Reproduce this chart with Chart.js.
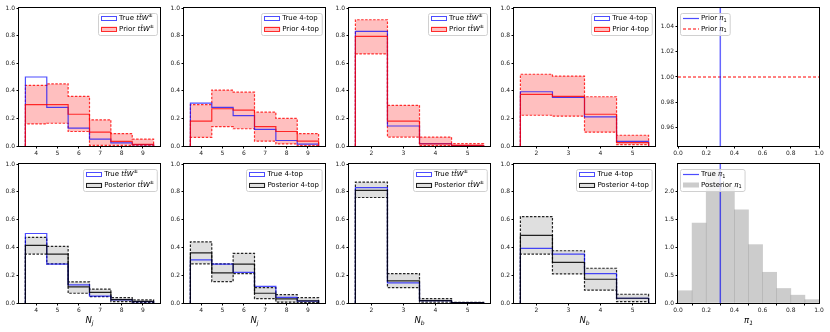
<!DOCTYPE html>
<html>
<head>
<meta charset="utf-8">
<script src="https://cdn.jsdelivr.net/npm/chart.js@4.4.0/dist/chart.umd.min.js"></script>
<style>
html, body { margin: 0; padding: 0; background: #fff; }
#fig { position: relative; width: 830px; height: 332px; overflow: hidden; }
#fig canvas { position: absolute; }
</style>
</head>
<body>
<div id="fig"></div>
<script>
// bins and tick labels
const njBins = [4, 5, 6, 7, 8, 9];
const nbBins = [2, 3, 4, 5];
const fracTicks = [0, 0.2, 0.4, 0.6, 0.8, 1.0];
const piTicks = [0, 0.2, 0.4, 0.6, 0.8, 1.0];
const flatTicks = [0.96, 0.98, 1.00, 1.02, 1.04];
const densTicks = [0, 0.5, 1.0, 1.5, 2.0];

// true distributions
const trueTtwNj = [0.50, 0.28, 0.13, 0.05, 0.022, 0.01];
const true4tNj = [0.31, 0.28, 0.22, 0.12, 0.04, 0.013];
const trueTtwNb = [0.83, 0.145, 0.017, 0.003];
const true4tNb = [0.393, 0.352, 0.211, 0.034];

// prior: median, lower, upper
const priorTtwNj = [0.30, 0.30, 0.23, 0.10, 0.034, 0.012];
const priorTtwNjLo = [0.16, 0.165, 0.105, 0.005, 0.005, 0.002];
const priorTtwNjHi = [0.44, 0.45, 0.36, 0.19, 0.09, 0.05];
const prior4tNj = [0.18, 0.27, 0.26, 0.14, 0.105, 0.035];
const prior4tNjLo = [0.063, 0.14, 0.125, 0.035, 0.015, 0.003];
const prior4tNjHi = [0.30, 0.405, 0.39, 0.245, 0.20, 0.09];
const priorTtwNb = [0.795, 0.18, 0.015, 0.004];
const priorTtwNbLo = [0.667, 0.065, 0.002, 0.0];
const priorTtwNbHi = [0.915, 0.295, 0.065, 0.017];
const prior4tNb = [0.374, 0.36, 0.23, 0.024];
const prior4tNbLo = [0.223, 0.216, 0.10, 0.01];
const prior4tNbHi = [0.52, 0.507, 0.357, 0.078];

// posterior: median, lower, upper
const postTtwNj = [0.415, 0.352, 0.116, 0.077, 0.024, 0.012];
const postTtwNjLo = [0.352, 0.282, 0.07, 0.046, 0.01, 0.003];
const postTtwNjHi = [0.472, 0.407, 0.152, 0.10, 0.038, 0.022];
const post4tNj = [0.36, 0.217, 0.28, 0.07, 0.029, 0.015];
const post4tNjLo = [0.282, 0.154, 0.212, 0.031, 0.007, 0.002];
const post4tNjHi = [0.44, 0.282, 0.357, 0.111, 0.06, 0.038];
const postTtwNb = [0.81, 0.159, 0.017, 0.002];
const postTtwNbLo = [0.759, 0.111, 0.007, 0.0];
const postTtwNbHi = [0.87, 0.212, 0.031, 0.005];
const post4tNb = [0.487, 0.292, 0.171, 0.034];
const post4tNbLo = [0.352, 0.21, 0.092, 0.01];
const post4tNbHi = [0.622, 0.376, 0.25, 0.063];

// pi_1
const truePi = 0.3;
const priorPi = 1.0;
const piCenters = [0.05, 0.15, 0.25, 0.35, 0.45, 0.55, 0.65, 0.75, 0.85, 0.95];
const postPiDens = [0.22, 1.43, 2.37, 2.08, 1.67, 1.045, 0.55, 0.26, 0.14, 0.06];

const FONT = 'DejaVu Sans';
const blue = 'rgba(0,0,255,0.7)';
const red = { line: 'rgba(255,0,0,0.8)', band: 'rgba(255,0,0,0.25)' };
const black = { line: 'rgba(0,0,0,0.85)', band: 'rgba(128,128,128,0.25)' };

// panel placement (plot area in page pixels)
const colX = [19, 184, 349, 514, 678];
const rows = [{ top: 8, h: 138, axisH: 18 }, { top: 164, h: 139, axisH: 28 }];

function makeCanvas(col, row) {
    const r = rows[row];
    const c = document.createElement('canvas');
    c.width = 170;
    c.height = 8 + r.h + r.axisH;
    c.style.left = (colX[col] - 20) + 'px';
    c.style.top = (r.top - 8) + 'px';
    document.getElementById('fig').appendChild(c);
    return c;
}

// rich text: segments with italic / sup / sub
function richText(ctx, segs, x, y, measureOnly) {
    let w = 0;
    segs.forEach(s => {
        const small = s.sup || s.sub;
        ctx.font = (s.it ? 'italic ' : '') + (small ? (s.size || 5) : (s.size || 7)) + 'px ' + FONT;
        const dy = s.sup ? -2.4 : s.sub ? (s.dy || 2) : 0;
        if (!measureOnly) ctx.fillText(s.t, x + w, y + dy);
        w += ctx.measureText(s.t).width;
    });
    return w;
}

const ttw = p => [{ t: p + ' ' }, { t: 'tt\u0304W', it: true }, { t: '\u00b1', sup: true }];
const pi1 = p => [{ t: p + ' ' }, { t: '\u03c0', it: true }, { t: '1', sub: true }];

// box around the plot area
const frame = {
    id: 'frame',
    afterDraw(chart) {
        const { ctx, chartArea: a } = chart;
        ctx.save();
        ctx.strokeStyle = '#000';
        ctx.lineWidth = 1;
        ctx.strokeRect(Math.round(a.left) - 0.5, Math.round(a.top) - 0.5,
            Math.round(a.width) + 1, Math.round(a.height) + 1);
        ctx.restore();
    }
};

// legend drawn inside the plot area
const legendBox = {
    id: 'legendBox',
    afterDraw(chart, args, opts) {
        const items = opts.items;
        if (!items) return;
        const { ctx, chartArea: a } = chart;
        ctx.save();
        const textW = Math.max(...items.map(it => richText(ctx, it.label, 0, 0, true)));
        const w = 21 + textW + 3;
        const h = 22;
        const x0 = opts.align === 'left' ? a.left + 2 : a.right - 3 - w;
        const y0 = a.top + 4.5;
        ctx.fillStyle = 'rgba(255,255,255,0.8)';
        ctx.strokeStyle = '#d0d0d0';
        ctx.lineWidth = 1;
        ctx.beginPath();
        if (ctx.roundRect) ctx.roundRect(Math.round(x0) + 0.5, Math.round(y0) + 0.5, w, h, 2);
        else ctx.rect(Math.round(x0) + 0.5, Math.round(y0) + 0.5, w, h);
        ctx.fill();
        ctx.stroke();
        items.forEach((it, i) => {
            const cy = y0 + 6 + i * 10.5;
            const hx = x0 + 3;
            if (it.kind === 'line') {
                ctx.strokeStyle = it.color;
                ctx.lineWidth = it.width || 1.2;
                ctx.setLineDash(it.dash || []);
                ctx.beginPath();
                ctx.moveTo(hx, cy);
                ctx.lineTo(hx + 16, cy);
                ctx.stroke();
                ctx.setLineDash([]);
            } else {
                if (it.fill) {
                    ctx.fillStyle = it.fill;
                    ctx.fillRect(hx, cy - 2.5, 16, 5);
                }
                if (it.color) {
                    ctx.strokeStyle = it.color;
                    ctx.lineWidth = 1;
                    ctx.strokeRect(Math.round(hx) + 0.5, Math.round(cy - 2.5) + 0.5, 15, 4);
                }
            }
            ctx.fillStyle = '#000';
            ctx.textBaseline = 'middle';
            richText(ctx, it.label, x0 + 21, cy, false);
        });
        ctx.restore();
    }
};

// x axis title with subscript
const xTitle = {
    id: 'xTitle',
    afterDraw(chart, args, opts) {
        if (!opts.main) return;
        const { ctx, chartArea: a } = chart;
        ctx.save();
        ctx.fillStyle = '#000';
        ctx.textBaseline = 'alphabetic';
        const segs = [{ t: opts.main, it: true, size: 8.5 }, { t: opts.sub, it: true, sub: true, size: 6, dy: 2 }];
        const w = richText(ctx, segs, 0, 0, true);
        richText(ctx, segs, (a.left + a.right) / 2 - w / 2, a.bottom + 20, false);
        ctx.restore();
    }
};

function axis(min, max, ticks, digits, size) {
    return {
        type: 'linear', min: min, max: max, offset: false,
        afterBuildTicks: s => { s.ticks = ticks.map(v => ({ value: v })); },
        afterFit: s => { if (s.isHorizontal()) s.height = size; else s.width = size; },
        grid: { display: true, drawOnChartArea: false, drawTicks: true, tickLength: 2.5, color: '#000' },
        border: { display: false },
        ticks: {
            font: { family: FONT, size: 6 }, color: '#222', padding: 1.5,
            maxRotation: 0, autoSkip: false,
            callback: v => Number(v).toFixed(digits)
        }
    };
}

function baseOptions(row, xScale, yScale, legend, title) {
    return {
        responsive: false,
        animation: false,
        events: [],
        layout: { padding: { top: 8, left: 0, right: 9, bottom: 0 } },
        scales: { x: xScale, y: yScale },
        plugins: {
            legend: { display: false },
            tooltip: { enabled: false },
            legendBox: legend,
            xTitle: title || {}
        }
    };
}

function stepPoints(bins, vals, drop) {
    const last = bins.length - 1;
    const pts = bins.map((b, i) => ({ x: b - 0.5, y: vals[i] }));
    pts.push({ x: bins[last] + 0.5, y: vals[last] });
    if (drop) {
        pts.unshift({ x: bins[0] - 0.5, y: 0 });
        pts.push({ x: bins[last] + 0.5, y: 0 });
    }
    return pts;
}

function histPanel(col, row, bins, truth, med, lo, hi, style, trueLabel, fitLabel, title) {
    const lowEdge = bins[0] - 0.5, highEdge = bins[bins.length - 1] + 0.5;
    const pad = 0.05 * (highEdge - lowEdge);
    const sets = [
        { data: stepPoints(bins, lo, false), borderColor: 'rgba(0,0,0,0)', order: 9 },
        { data: stepPoints(bins, hi, false), borderColor: 'rgba(0,0,0,0)', fill: '-1', backgroundColor: style.band, order: 8 },
        { data: stepPoints(bins, hi, true), borderColor: style.line, borderDash: [2.5, 1.5], order: 5 },
        { data: stepPoints(bins, lo, true), borderColor: style.line, borderDash: [2.5, 1.5], order: 4 },
        { data: stepPoints(bins, truth, true), borderColor: blue, order: 3 },
        { data: stepPoints(bins, med, true), borderColor: style.line, order: 2 }
    ].map(d => Object.assign({ type: 'line', pointRadius: 0, stepped: true, fill: false, borderWidth: 1.2 }, d));

    const legend = {
        align: 'right',
        items: [
            { kind: 'rect', color: blue, label: trueLabel },
            { kind: 'rect', color: style.line, fill: style.band, label: fitLabel }
        ]
    };
    new Chart(makeCanvas(col, row), {
        type: 'line',
        data: { datasets: sets },
        options: baseOptions(row,
            axis(lowEdge - pad, highEdge + pad, bins, 0, rows[row].axisH),
            axis(0, 1, fracTicks, 1, 20), legend, title),
        plugins: [frame, legendBox, xTitle]
    });
}

// top row: true vs prior
histPanel(0, 0, njBins, trueTtwNj, priorTtwNj, priorTtwNjLo, priorTtwNjHi, red, ttw('True'), ttw('Prior'));
histPanel(1, 0, njBins, true4tNj, prior4tNj, prior4tNjLo, prior4tNjHi, red, [{ t: 'True 4-top' }], [{ t: 'Prior 4-top' }]);
histPanel(2, 0, nbBins, trueTtwNb, priorTtwNb, priorTtwNbLo, priorTtwNbHi, red, ttw('True'), ttw('Prior'));
histPanel(3, 0, nbBins, true4tNb, prior4tNb, prior4tNbLo, prior4tNbHi, red, [{ t: 'True 4-top' }], [{ t: 'Prior 4-top' }]);

// bottom row: true vs posterior
histPanel(0, 1, njBins, trueTtwNj, postTtwNj, postTtwNjLo, postTtwNjHi, black, ttw('True'), ttw('Posterior'), { main: 'N', sub: 'j' });
histPanel(1, 1, njBins, true4tNj, post4tNj, post4tNjLo, post4tNjHi, black, [{ t: 'True 4-top' }], [{ t: 'Posterior 4-top' }], { main: 'N', sub: 'j' });
histPanel(2, 1, nbBins, trueTtwNb, postTtwNb, postTtwNbLo, postTtwNbHi, black, ttw('True'), ttw('Posterior'), { main: 'N', sub: 'b' });
histPanel(3, 1, nbBins, true4tNb, post4tNb, post4tNbLo, post4tNbHi, black, [{ t: 'True 4-top' }], [{ t: 'Posterior 4-top' }], { main: 'N', sub: 'b' });

// prior on pi_1 (flat)
const flatMin = priorPi - 0.055, flatMax = priorPi + 0.055;
new Chart(makeCanvas(4, 0), {
    type: 'line',
    data: {
        datasets: [
            { data: [{ x: truePi, y: flatMin }, { x: truePi, y: flatMax }], borderColor: 'rgba(0,0,255,0.6)', borderWidth: 1.5 },
            { data: [{ x: 0, y: priorPi }, { x: 1, y: priorPi }], borderColor: '#ff0000', borderWidth: 1, borderDash: [3, 2] }
        ].map(d => Object.assign({ pointRadius: 0, fill: false }, d))
    },
    options: baseOptions(0,
        axis(0, 1, piTicks, 1, rows[0].axisH),
        axis(flatMin, flatMax, flatTicks, 2, 20),
        {
            align: 'left',
            items: [
                { kind: 'line', color: 'rgba(0,0,255,0.7)', width: 1.2, label: pi1('Prior') },
                { kind: 'line', color: '#ff0000', width: 1, dash: [3, 2], label: pi1('Prior') }
            ]
        }),
    plugins: [frame, legendBox, xTitle]
});

// posterior on pi_1
const densMax = Math.max(...postPiDens) * 1.05;
new Chart(makeCanvas(4, 1), {
    type: 'bar',
    data: {
        datasets: [
            {
                type: 'line', data: [{ x: truePi, y: 0 }, { x: truePi, y: densMax }],
                borderColor: 'rgba(0,0,255,0.6)', borderWidth: 1.5, pointRadius: 0, fill: false, order: 1
            },
            {
                type: 'bar', data: piCenters.map((x, i) => ({ x: x, y: postPiDens[i] })),
                backgroundColor: 'rgba(128,128,128,0.4)', borderWidth: 0,
                barPercentage: 1, categoryPercentage: 1, grouped: false, order: 2
            }
        ]
    },
    options: baseOptions(1,
        axis(0, 1, piTicks, 1, rows[1].axisH),
        axis(0, densMax, densTicks, 1, 20),
        {
            align: 'left',
            items: [
                { kind: 'line', color: 'rgba(0,0,255,0.7)', width: 1.2, label: pi1('True') },
                { kind: 'rect', fill: 'rgba(128,128,128,0.4)', label: pi1('Posterior') }
            ]
        },
        { main: '\u03c0', sub: '1' }),
    plugins: [frame, legendBox, xTitle]
});
</script>
</body>
</html>
